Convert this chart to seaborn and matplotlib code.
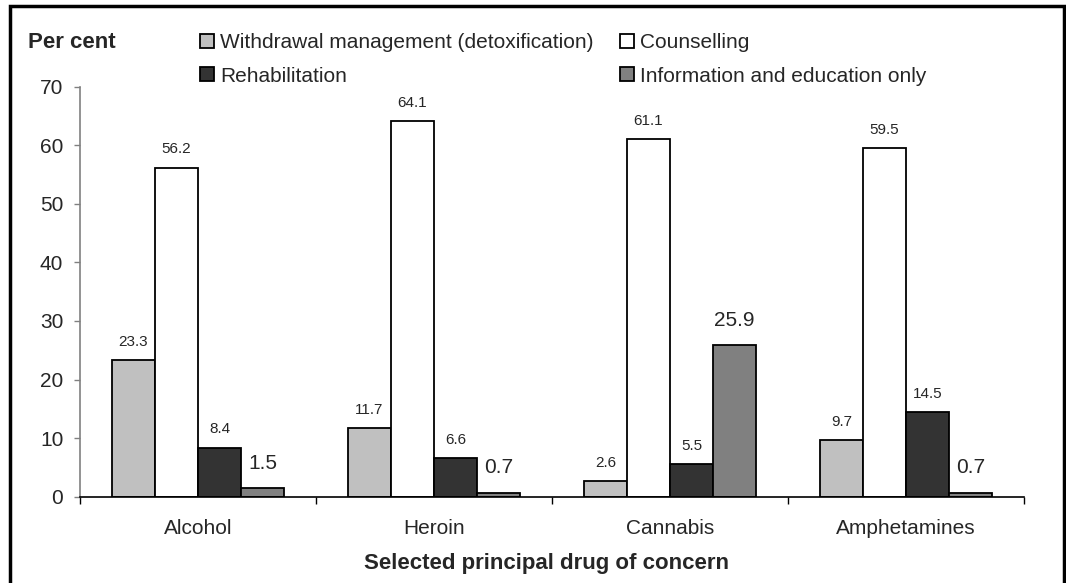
#%% Import
import numpy as np
import pandas as pd
import seaborn as sns
import matplotlib.pyplot as plt
from matplotlib.patches import Rectangle

#%% data
drugs = ["Alcohol", "Heroin", "Cannabis", "Amphetamines"]
treatments = ["Withdrawal management (detoxification)", "Counselling",
              "Rehabilitation", "Information and education only"]
withdrawal = [23.3, 11.7, 2.6, 9.7]
counselling = [56.2, 64.1, 61.1, 59.5]
rehabilitation = [8.4, 6.6, 5.5, 14.5]
info_only = [1.5, 0.7, 25.9, 0.7]
yticks = [0, 10, 20, 30, 40, 50, 60, 70]

colours = ["#c0c0c0", "#ffffff", "#333333", "#808080"]

df = pd.DataFrame({
    "drug": drugs * 4,
    "treatment": np.repeat(treatments, len(drugs)),
    "pct": withdrawal + counselling + rehabilitation + info_only,
})

#%% style
sns.set_style("white")
plt.rcParams["font.family"] = ["Liberation Sans", "DejaVu Sans"]

W, H = 1066, 583
fig = plt.figure(figsize=(W / 100, H / 100), dpi=100)
ax = fig.add_axes([80 / W, 1 - 496.7 / H, 944 / W, 410 / H])

sns.barplot(data=df, x="drug", y="pct", hue="treatment", hue_order=treatments,
            palette=colours, saturation=1, width=0.73, edgecolor="black",
            linewidth=1.3, ax=ax)
handles = [c.patches[0] for c in ax.containers]
ax.legend_.remove()

# data labels (info & education only printed larger in the original)
for i, c in enumerate(ax.containers):
    if i == 3:
        ax.bar_label(c, fmt="%.1f", padding=11, fontsize=15)
    else:
        ax.bar_label(c, fmt="%.1f", padding=8, fontsize=11)

#%% axes
ax.set_ylim(0, 70)
ax.set_yticks(yticks)
ax.set_xlim(-0.5, len(drugs) - 0.5)
ax.set_xticks(np.arange(-0.5, len(drugs)), minor=True)
ax.tick_params(axis="x", which="major", length=0, labelsize=15, pad=16)
ax.tick_params(axis="x", which="minor", length=5, width=1, color="black",
               direction="out", bottom=True)
ax.tick_params(axis="y", length=4, width=1, color="#808080", direction="out",
               labelsize=15, pad=8, left=True)
ax.set_ylabel("")
ax.set_xlabel("Selected principal drug of concern", fontsize=16,
              fontweight="bold")
ax.xaxis.set_label_coords(0.494, -0.138)

sns.despine(ax=ax, top=True, right=True)
ax.spines["left"].set_color("#808080")
ax.spines["left"].set_linewidth(1.2)
ax.spines["bottom"].set_color("black")
ax.spines["bottom"].set_linewidth(1.2)

fig.text(28 / W, 1 - 43 / H, "Per cent", fontsize=16, fontweight="bold",
         ha="left", va="center")

#%% legend, one entry at a time like the Excel layout
leg_kw = dict(loc="center left", frameon=False, borderpad=0, borderaxespad=0,
              handlelength=0.67, handleheight=0.67, handletextpad=0.3,
              fontsize=15)
legend_xy = [(200, 43), (620, 43), (200, 76), (620, 76)]
for h, lab, (px, py) in zip(handles, treatments, legend_xy):
    fig.legend([h], [lab], bbox_to_anchor=(px / W, 1 - py / H), **leg_kw)

# outer frame
fig.patches.append(Rectangle((9.5 / W, -0.02), 1054 / W, 1.02 - 6 / H,
                             transform=fig.transFigure, fill=False,
                             edgecolor="black", linewidth=2.5))

fig.savefig("out.png", dpi=100)
